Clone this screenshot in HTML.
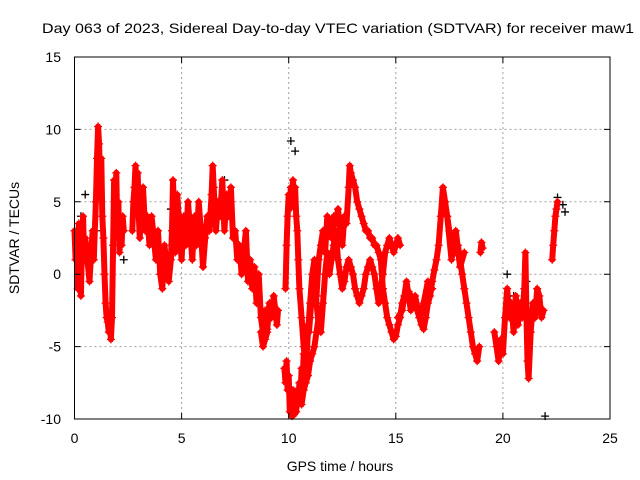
<!DOCTYPE html>
<html><head><meta charset="utf-8"><style>
html,body{margin:0;padding:0;background:#fff;}
svg{display:block;font-family:"Liberation Sans",sans-serif;}
</style></head><body>
<svg id="chart" width="640" height="480" xmlns="http://www.w3.org/2000/svg">
<text x="338" y="33" font-size="14" text-anchor="middle" textLength="592" lengthAdjust="spacingAndGlyphs">Day 063 of 2023, Sidereal Day-to-day VTEC variation (SDTVAR) for receiver maw1</text>
<text transform="translate(19,238) rotate(-90)" font-size="14" text-anchor="middle">SDTVAR / TECUs</text>
<text x="340" y="471" font-size="14" text-anchor="middle">GPS time / hours</text>
<g id="grid"></g><g id="black"></g><g id="red"></g><g id="axes"></g>
</svg>
<script>
const xTicks=[0,5,10,15,20,25];
const yTicks=[-10,-5,0,5,10,15];
const redHours=[0.0,0.05,0.1,0.15,0.2,0.25,0.3,0.35,0.4,0.45,0.5,0.6,0.7,0.8,0.85,0.9,0.95,1.0,1.05,1.1,1.15,1.2,1.25,1.3,1.35,1.4,1.45,1.5,1.55,1.6,1.65,1.7,1.75,1.8,1.85,1.9,1.95,2.0,2.05,2.1,2.15,2.2,2.25,2.3,2.7,2.75,2.8,2.85,2.9,2.95,3.0,3.05,3.1,3.2,3.3,3.4,3.5,3.6,3.7,3.8,3.9,4.0,4.1,4.2,4.3,4.4,4.5,4.55,4.6,4.65,4.7,4.8,4.9,5.0,5.1,5.2,5.3,5.4,5.5,5.6,5.7,5.8,5.9,6.0,6.1,6.2,6.3,6.4,6.45,6.5,6.6,6.7,6.8,6.9,7.0,7.1,7.2,7.3,7.4,7.5,7.6,7.7,7.8,7.9,8.0,8.1,8.2,8.3,8.4,8.5,8.6,8.7,8.8,8.9,9.0,9.1,9.2,9.3,9.4,9.45,9.5];
const redValues=[3,1,2.5,-1,3.5,0,-1.5,2,4,1,2.5,1,-0.5,2,3,1,3,5,8,10.2,9,6,8,4,2.5,0,-2,-3,-3.3,-4,-3.5,-4.5,-3,2,6.5,4,7,3,5,1.5,3.5,2,4,3,3,5,6,7.5,5,7,4,2.5,5,6,3,4,2,4,2.5,1,3,0,-1,2,0.5,-0.5,1,3,6.5,4,1.5,5.5,3,1,4,2,5,3,1,4,2,5,3,0.5,2.5,4,3,5.5,7.5,6,3,5,4,6.5,3,5.5,4,6,2.5,3,1,2,0,1.5,3,-0.5,1,-1,0.5,-2,0,-3,-4,-2.5,-3.8,-2,-3,-1.5,-2.8,-3.5,-2.5,2,0];
const midHours=[8.7,8.8,8.9,9.0,9.8,9.85,9.9,9.95,10.0,10.05,10.1,10.15,10.2,10.25,10.3,10.35,10.4,10.45,10.5,10.55,10.6,10.65,10.7,10.75,10.8,10.85,10.9,10.95,11.0,11.1,11.2,11.3,11.4,11.5,11.6,11.7,11.8,11.9,12.0,12.1,12.2,12.3,12.4,12.5,12.6,12.7,12.8,12.85,12.9,13.0,13.1,13.2,13.3,13.4,13.5,13.6,13.7,13.8,13.9,14.0,14.1,14.2,14.3,14.4,14.5,14.6,14.7,14.8,14.9,15.0,15.1,15.2,15.3,15.4,15.5,15.6,15.7,15.8,15.9,16.0,16.1,16.2,16.3,16.4,16.5,16.6,16.7,16.8,16.9,17.0,17.1,17.2,17.3,17.4,17.5,17.6,17.7,17.8,17.9,18.0,18.1,18.2,18.3,18.4,18.5,18.6,18.7,18.8,18.9];
const midValues=[-4,-5,-4.5,-4,-6.5,-7.5,-6,-8,-7,-9.5,-8,-9.8,-9,-9.7,-8.5,-9.5,-8,-9,-7.5,-8.5,-6.5,-7.5,-5.5,-6.5,-4.5,-5,-3.5,-4,-3,-1,0,-1.5,1,2,3,1.5,4,3,2.5,4,3.5,4.5,3,2,4,3.5,6,7.5,7,6.5,6,5,4.5,4,3.5,3,3,2.5,2.5,2,2,1.5,1,-1,-2,-3,-3.5,-4,-4.5,-4.3,-3.5,-3,-2,-1.5,-1,-1.2,-1.5,-1.8,-2,-2.5,-3,-3.5,-3.8,-3,-2,-1.5,-0.5,0.3,1,2,4,6,5,4,3,2,2.5,1.5,2,1,0,-1,-2,-3,-4,-5,-5.5,-6,-5];
const branchHours=[9.85,9.9,9.95,10.0,10.05,10.1,10.15,10.2,10.25,10.3,10.35,10.4,10.45,10.5,10.6,10.7,10.8,10.9,11.0,11.1,11.2,11.3,11.4,11.5,11.6,11.7,11.8,11.9,12.0,12.1,12.2,12.3,12.4,12.5,12.6,12.7,12.8,12.9,13.0,13.1,13.2,13.3,13.4,13.5,13.6,13.7,13.8,13.9,14.0,14.1,14.2,14.3,14.4,14.5,14.6,14.7,14.8,14.9,15.0,15.1,15.2];
const branchValues=[-1,2,4,5.5,4.5,6,5,6.5,5,6,4,3,1,-1,-3,-5,-6.5,-4,-2,0,1,-2,-3.5,-4,-2,0,1.5,0,1,2,3,1,0,-1,-0.5,0.5,1,0.5,0,-1,-1.5,-2,-1.5,-1,0,0.5,1,0.5,0,-1,-2,-1,0,1.5,2,2.5,2,1.5,2,2.5,2];
const troughHours=[10.2,10.3,10.4,10.5,10.6,10.7,10.8,10.9,11.0,11.1,11.2,11.3,11.4,15.1,15.3,15.5,15.7,15.9,16.1,16.3,16.5,16.7,17.4,17.6,17.8,18.0,18.2];
const troughValues=[-8,-9.5,-9,-8.5,-9,-8,-7.5,-7,-6,-5.5,-5,-4,-3,-3,-2.5,-0.5,-2.5,-1.5,-3,-2,-0.5,-1,4,1,3,0.5,1.5];
const lateHours=[18.95,19.0,19.05,19.6,19.7,19.8,19.9,20.0,20.1,20.2,20.3,20.4,20.5,20.6,20.7,20.8,20.9,21.0,21.05,21.1,21.15,21.2,21.3,21.4,21.5,21.6,21.7,21.8,21.9];
const lateValues=[1.5,2.2,1.8,-4,-5,-6,-4.5,-5.5,-3,-1,-3,-2,-4,-1.5,-3.5,-2,-3,-1,1.5,-3,-6,-7.2,-4,-2,-3,-1,-1.5,-3,-2.5];
const endHours=[22.3,22.35,22.4,22.45,22.5,22.55];
const endValues=[1,2,3,4,4.5,5];
const blackHours=[0.3,0.5,1.0,2.3,4.5,7.0,10.1,10.3,20.2,20.5,21.1,21.5,21.97,22.55,22.8,22.9];
const blackValues=[4,5.5,3,1,4.5,6.5,9.2,8.5,0,-1.5,-0.5,-2,-9.8,5.3,4.8,4.3];

const NS='http://www.w3.org/2000/svg';
const X0=74.5,X1=610,Y0=419,Y1=57;
const sx=h=>X0+h/25*(X1-X0);
const sy=v=>Y0-(v+10)/25*(Y0-Y1);
function mk(tag,attrs,parent){const e=document.createElementNS(NS,tag);for(const k in attrs)e.setAttribute(k,attrs[k]);parent.appendChild(e);return e;}
const grid=document.getElementById('grid'),axes=document.getElementById('axes');
xTicks.forEach(t=>{
  const x=sx(t);
  if(t>0&&t<25){const g=mk('line',{x1:x,y1:Y0,x2:x,y2:Y1,stroke:'#a0a0a0','stroke-dasharray':'2,3'},grid);
  
  }
  const tk=mk('path',{d:`M${x},${Y0}v-6M${x},${Y1}v6`,stroke:'#000'},axes);
  
  
  const lb=mk('text',{x:x,y:443,'font-size':14,'text-anchor':'middle'},axes);lb.textContent=t;
  
  
});
yTicks.forEach(t=>{
  const y=sy(t);
  if(t>-10&&t<15){const g=mk('line',{x1:X0,y1:y,x2:X1,y2:y,stroke:'#a0a0a0','stroke-dasharray':'2,3'},grid);
  
  }
  const tk=mk('path',{d:`M${X0},${y}h6M${X1},${y}h-6`,stroke:'#000'},axes);
  
  
  const lb=mk('text',{x:61,y:y+5,'font-size':14,'text-anchor':'end'},axes);lb.textContent=t;
  
  
});
const fr=mk('rect',{x:X0,y:Y1,width:X1-X0,height:Y0-Y1,fill:'none',stroke:'#000'},axes);



function series(hs,vs,color,parent,name,thick){
  if(thick){let d='';for(let i=0;i<hs.length;i++){const gap=i==0||hs[i]-hs[i-1]>0.35;d+=(gap?'M':'L')+sx(hs[i]).toFixed(1)+','+sy(vs[i]).toFixed(1);}
    const p=mk('path',{d:d,fill:'none',stroke:color,'stroke-width':6,'stroke-linejoin':'round','stroke-linecap':'round'},parent);
    
    }
  for(let i=0;i<hs.length;i++){const x=sx(hs[i]),y=sy(vs[i]);
    const m=mk('path',{d:`M${x-4},${y}h8M${x},${y-4}v8`,stroke:color,'stroke-width':1.3},parent);
    
    }
}
const bl=document.getElementById('black'),rd=document.getElementById('red');
series(blackHours,blackValues,'#000',bl,'black-series',false);
series(redHours,redValues,'#f00',rd,'red-series',true);
series(midHours,midValues,'#f00',rd,'red-series-mid',true);
series(branchHours,branchValues,'#f00',rd,'red-series-branch',true);
series(troughHours,troughValues,'#f00',rd,'red-series-trough',true);
series(lateHours,lateValues,'#f00',rd,'red-series-late',true);
series(endHours,endValues,'#f00',rd,'red-series-end',true);
</script>
</body></html>
